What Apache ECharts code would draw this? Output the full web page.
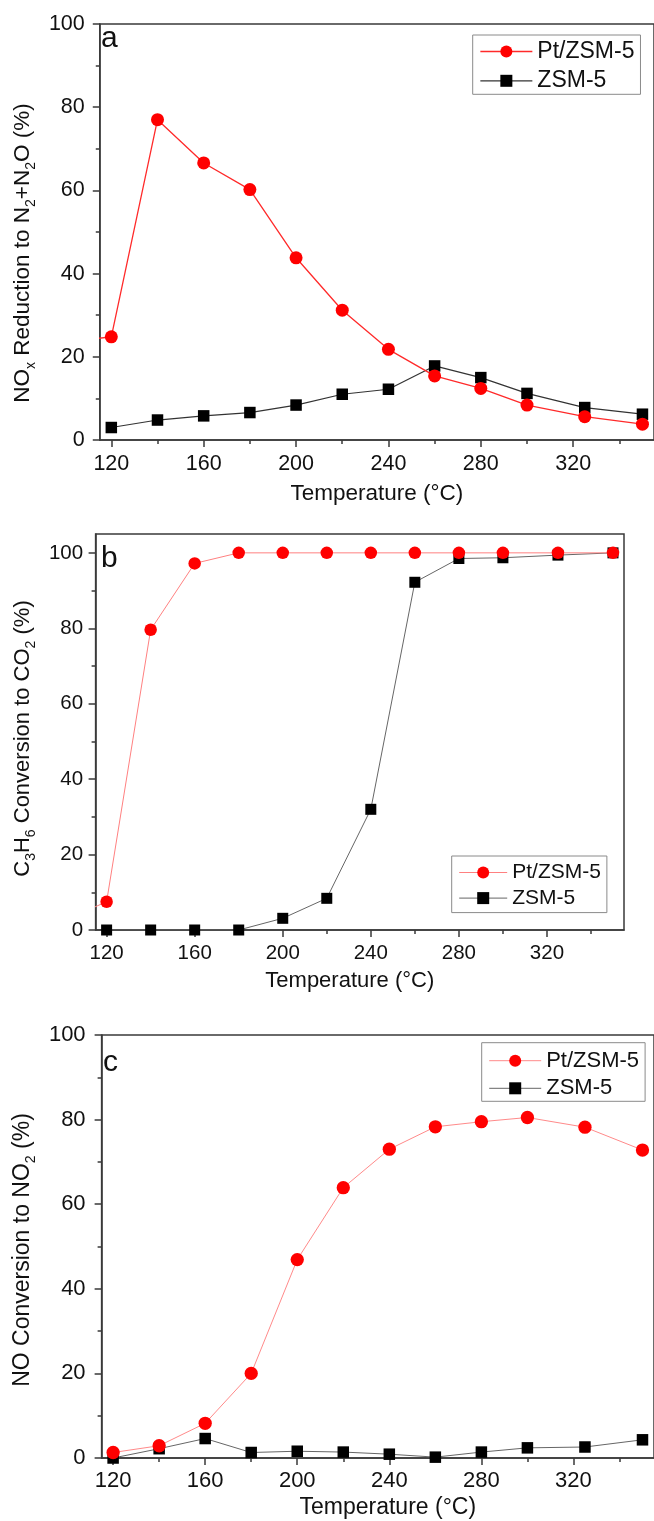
<!DOCTYPE html>
<html>
<head>
<meta charset="utf-8">
<script src="https://cdn.jsdelivr.net/npm/echarts@6/dist/echarts.min.js"></script>
<style>
html,body{margin:0;padding:0;background:#fff;}
#chart{width:654px;height:1521px;}
</style>
</head>
<body>
<div id="chart"></div>
<script>
// ---------------- data ----------------
const temperatures = [120, 140, 160, 180, 200, 220, 240, 260, 280, 300, 325, 350];
// a point measured below the visible x range (line enters the frame from the left)
const leadTemperature = 100;
const aPtLead = 23.5;
const bPtLead = 2.3;

// (a) NOx reduction to N2+N2O (%)
const aPt  = [24.8, 77.0, 66.6, 60.2, 43.8, 31.2, 21.8, 15.4, 12.4, 8.4, 5.6, 3.8];
const aZsm = [3.0, 4.8, 5.8, 6.6, 8.4, 11.0, 12.2, 17.8, 15.0, 11.2, 7.8, 6.2];
// (b) C3H6 conversion to CO2 (%)
const bPt  = [7.5, 79.6, 97.2, 100, 100, 100, 100, 100, 100, 100, 100, 100];
const bZsm = [0, 0, 0, 0, 3.1, 8.4, 32.0, 92.2, 98.5, 98.7, 99.4, 100];
// (c) NO conversion to NO2 (%)
const cPt  = [1.3, 2.9, 8.2, 20.0, 46.9, 63.9, 73.0, 78.3, 79.5, 80.5, 78.2, 72.8];
const cZsm = [0.0, 2.2, 4.6, 1.3, 1.6, 1.4, 0.9, 0.2, 1.4, 2.4, 2.6, 4.3];

// tick labels
const xLabelValues = [120, 160, 200, 240, 280, 320];
const xMinorValues = [140, 180, 220, 260, 300, 340];
const yLabelValues = [0, 20, 40, 60, 80, 100];
const yMinorValues = [10, 30, 50, 70, 90];

const seriesNames = ['Pt/ZSM-5', 'ZSM-5'];
const xTitle = 'Temperature (\u00B0C)';
const yTitles = [
  'NO{s|x} Reduction to N{s|2}+N{s|2}O (%)',
  'C{s|3}H{s|6} Conversion to CO{s|2} (%)',
  'NO Conversion to NO{s|2} (%)'
];
const panelLetters = ['a', 'b', 'c'];

// ---------------- layout / style ----------------
const FONT = 'Liberation Sans, Arial, Helvetica, sans-serif';
const AX = '#3a3a3a';
const panels = [
  { left: 93, top: 24, width: 563, height: 416, ymax: 100, tickFont: 21.5, nameFont: 22.5,
    xMargin: 13, yMargin: 15, xGap: 42, yGap: 54, xPad: [0, 0, 0, 0], yPad: [0, 42, 0, 0],
    pt: [[leadTemperature, aPtLead]].concat(temperatures.map((t, i) => [t, aPt[i]])),
    zs: temperatures.map((t, i) => [t, aZsm[i]]),
    ptLine: { color: '#ff2a2a', width: 1.3 }, zsLine: { color: '#333', width: 1.2 },
    circle: 13, square: 11.5,
    legend: { left: 472.7, top: 35, font: 23, gap: 6.3, itemWidth: 52, pad: [5, 6, 2, 7] },
    letter: { x: 101, y: 38.7 } },
  { left: 93, top: 534, width: 531, height: 396, ymax: 105, tickFont: 20.5, nameFont: 22,
    xMargin: 12.5, yMargin: 12.5, xGap: 39.5, yGap: 53, xPad: [0, 20, 0, 0], yPad: [0, 13, 0, 0],
    pt: [[leadTemperature, bPtLead]].concat(temperatures.map((t, i) => [t, bPt[i]])),
    zs: temperatures.map((t, i) => [t, bZsm[i]]),
    ptLine: { color: '#ff8080', width: 1 }, zsLine: { color: '#666', width: 1 },
    circle: 12.5, square: 11,
    legend: { left: 451.7, top: 856, font: 21, gap: 4.6, itemWidth: 48, pad: [6, 6, 4, 7] },
    letter: { x: 101, y: 558.7 } },
  { left: 94.5, top: 1035, width: 568, height: 423, ymax: 100, tickFont: 22, nameFont: 23,
    xMargin: 12.4, yMargin: 16, xGap: 37.7, yGap: 53, xPad: [0, 0, 0, 20], yPad: [0, 7, 0, 0],
    pt: temperatures.map((t, i) => [t, cPt[i]]),
    zs: temperatures.map((t, i) => [t, cZsm[i]]),
    ptLine: { color: '#ff8a8a', width: 1 }, zsLine: { color: '#666', width: 1 },
    circle: 13.3, square: 11.5,
    legend: { left: 481.7, top: 1042.7, font: 22, gap: 5.6, itemWidth: 52, pad: [7, 6, 2, 7] },
    letter: { x: 103, y: 1063 } }
];

const grid = [], xAxis = [], yAxis = [], series = [], legend = [], graphic = [];

panels.forEach((p, i) => {
  grid.push({ left: p.left, top: p.top, width: p.width, height: p.height,
    show: true, borderColor: AX, borderWidth: 1.5, backgroundColor: 'transparent' });

  const tickStyle = { color: AX, width: 1.5 };
  xAxis.push({
    gridIndex: i, type: 'value', min: 115, max: 355, position: 'bottom',
    axisLine: { show: true, onZero: false, lineStyle: tickStyle },
    axisTick: { show: true, customValues: xLabelValues, length: 7, lineStyle: tickStyle },
    axisLabel: { customValues: xLabelValues, margin: p.xMargin, fontSize: p.tickFont,
      color: '#111', fontFamily: FONT },
    splitLine: { show: false },
    name: xTitle, nameLocation: 'middle', nameGap: p.xGap,
    nameTextStyle: { fontSize: p.nameFont, color: '#111', fontFamily: FONT, padding: p.xPad }
  });
  xAxis.push({
    gridIndex: i, type: 'value', min: 115, max: 355, position: 'bottom',
    axisLine: { show: false, onZero: false },
    axisTick: { show: true, customValues: xMinorValues, length: 4, lineStyle: tickStyle },
    axisLabel: { show: false }, splitLine: { show: false }
  });
  yAxis.push({
    gridIndex: i, type: 'value', min: 0, max: p.ymax, position: 'left',
    axisLine: { show: true, onZero: false, lineStyle: tickStyle },
    axisTick: { show: true, customValues: yLabelValues, length: 7, lineStyle: tickStyle },
    axisLabel: { customValues: yLabelValues, margin: p.yMargin, fontSize: p.tickFont,
      color: '#111', fontFamily: FONT },
    splitLine: { show: false },
    name: yTitles[i], nameLocation: 'middle', nameRotate: 90, nameGap: p.yGap,
    nameTextStyle: { fontSize: p.nameFont, lineHeight: 30, color: '#111', fontFamily: FONT,
      padding: p.yPad,
      rich: { s: { fontSize: 14, verticalAlign: 'bottom', color: '#111', fontFamily: FONT } } }
  });
  yAxis.push({
    gridIndex: i, type: 'value', min: 0, max: p.ymax, position: 'left',
    axisLine: { show: false, onZero: false },
    axisTick: { show: true, customValues: yMinorValues, length: 4, lineStyle: tickStyle },
    axisLabel: { show: false }, splitLine: { show: false }
  });

  series.push({
    name: seriesNames[1], type: 'line', xAxisIndex: 2 * i, yAxisIndex: 2 * i,
    data: p.zs, symbol: 'rect', symbolSize: p.square, showSymbol: true,
    itemStyle: { color: '#000' }, lineStyle: p.zsLine, clip: true, z: 2
  });
  series.push({
    name: seriesNames[0], type: 'line', xAxisIndex: 2 * i, yAxisIndex: 2 * i,
    data: p.pt, symbol: 'circle', symbolSize: p.circle, showSymbol: true,
    itemStyle: { color: '#ff0000' }, lineStyle: p.ptLine, clip: true, z: 3
  });

  legend.push({
    orient: 'vertical', left: p.legend.left, top: p.legend.top,
    itemWidth: p.legend.itemWidth, itemHeight: 15, itemGap: p.legend.gap,
    padding: p.legend.pad, borderColor: '#8a8a8a', borderWidth: 1, backgroundColor: '#fff',
    selectedMode: false,
    textStyle: { fontSize: p.legend.font, color: '#111', fontFamily: FONT },
    data: [
      { name: seriesNames[0], itemStyle: { color: '#ff0000' },
        lineStyle: { color: p.ptLine.color, width: p.ptLine.width } },
      { name: seriesNames[1], itemStyle: { color: '#000' },
        lineStyle: { color: p.zsLine.color, width: p.zsLine.width } }
    ]
  });

  graphic.push({
    type: 'text', left: p.letter.x, top: p.letter.y - 15, z: 10,
    style: { text: panelLetters[i], font: '30px ' + FONT, fill: '#111' }
  });
});

const chart = echarts.init(document.getElementById('chart'), null, { renderer: 'canvas' });
chart.setOption({
  backgroundColor: '#fff',
  animation: false,
  grid, xAxis, yAxis, series, legend, graphic
});
</script>
</body>
</html>
